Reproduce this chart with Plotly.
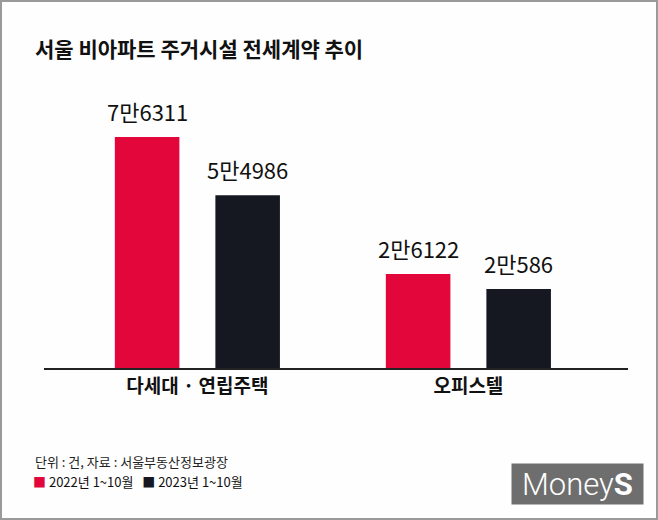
import plotly.graph_objects as go

categories = ["다세대 · 연립주택", "오피스텔"]
series_names = ["2022년 1~10월", "2023년 1~10월"]
values_2022 = [76311, 26122]
values_2023 = [54986, 20586]
labels_2022 = ["7만6311", "2만6122"]
labels_2023 = ["5만4986", "2만586"]

colors = ["#e3063b", "#151821"]
AXIS_FLOOR = -8360  # visual baseline below zero (bars drawn from this floor)
FONT = "Noto Sans CJK KR"

W, H = 658, 520
L, R, T, B = 44, 30, 100, 152
pw, ph = W - L - R, H - T - B
BARGAP = 0.258
XRANGE = [-0.566, 1.589]
slot_px = (1 - BARGAP) / 2 * pw / (XRANGE[1] - XRANGE[0])


def px_x(x):
    return (x - L) / pw


def px_y(y):
    return (H - B - y) / ph


fig = go.Figure()
annotations = []
series = [
    (series_names[0], values_2022, labels_2022, colors[0], -0.5),
    (series_names[1], values_2023, labels_2023, colors[1], 0.5),
]
for name, vals, labs, col, side in series:
    fig.add_trace(go.Bar(
        name=name,
        x=categories,
        y=[v - AXIS_FLOOR for v in vals],
        base=AXIS_FLOOR,
        marker=dict(color=col, line=dict(width=0)),
        hoverinfo="skip",
        showlegend=False,
    ))
    for c, v, lab in zip(categories, vals, labs):
        annotations.append(dict(
            x=c, y=v, xref="x", yref="y",
            text=lab, showarrow=False,
            xanchor="center", yanchor="bottom",
            xshift=side * slot_px, yshift=8,
            font=dict(family=FONT, size=22, color="#111111"),
        ))

legend_text = "   ".join(
    f'<span style="color:{c}">■</span> {n}' for n, c in zip(series_names, colors)
)

annotations += [
    dict(
        text="단위 : 건, 자료 : 서울부동산정보광장",
        xref="paper", yref="paper",
        x=px_x(33), y=px_y(461), xanchor="left", yanchor="middle",
        showarrow=False,
        font=dict(family=FONT, size=13, color="#222222"),
    ),
    dict(
        text=legend_text,
        xref="paper", yref="paper",
        x=px_x(31), y=px_y(481), xanchor="left", yanchor="middle",
        showarrow=False,
        font=dict(family=FONT, size=13, color="#111111"),
    ),
    dict(
        text="Money<b>S</b>",
        xref="paper", yref="paper",
        x=px_x(577), y=px_y(484), xanchor="center", yanchor="middle",
        showarrow=False,
        bgcolor="#6e6e6e",
        borderpad=2,
        width=127, height=36,
        font=dict(family="Roboto", size=31, color="#ffffff", weight=300),
    ),
]

fig.update_layout(
    width=W, height=H,
    margin=dict(l=L, r=R, t=T, b=B),
    paper_bgcolor="#fefefe",
    plot_bgcolor="#fefefe",
    barmode="group",
    bargap=BARGAP,
    bargroupgap=0.358,
    font=dict(family=FONT, color="#111111"),
    title=dict(
        text="<b>서울 비아파트 주거시설 전세계약 추이</b>",
        font=dict(family=FONT, size=21, color="#111111"),
        x=35 / W, xanchor="left", xref="container",
        y=1 - 50 / H, yanchor="middle",
    ),
    xaxis=dict(
        range=XRANGE,
        showline=True, linecolor="#222222", linewidth=1.5,
        showgrid=False, zeroline=False, ticks="",
        tickfont=dict(family=FONT, size=19, color="#111111", weight="bold"),
        fixedrange=True,
    ),
    yaxis=dict(
        range=[AXIS_FLOOR, AXIS_FLOOR + ph / 0.002728],
        visible=False, showgrid=False, zeroline=False,
    ),
    showlegend=False,
    annotations=annotations,
    shapes=[
        dict(
            type="rect", xref="paper", yref="paper",
            x0=px_x(1), x1=px_x(657), y0=px_y(1), y1=px_y(519),
            line=dict(color="#9a9a9a", width=2), fillcolor="rgba(0,0,0,0)",
            layer="below",
        ),
    ],
)

fig.write_html("out.html")
